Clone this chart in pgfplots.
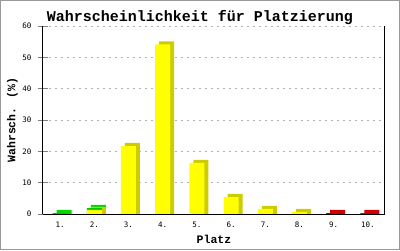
\documentclass[border=0pt]{standalone}
\usepackage{pgfplots}
\pgfplotsset{compat=1.18}
\usepackage{fontspec}
\setmainfont{Liberation Mono}
\newfontfamily\tickfont{DejaVu Sans Mono}
\definecolor{yel}{HTML}{FFFF00}
\definecolor{yelD}{HTML}{CCCC00}
\definecolor{grn}{HTML}{00C800}
\definecolor{grnD}{HTML}{00D800}
\definecolor{rd}{HTML}{CC0000}
\definecolor{rdD}{HTML}{D00000}
\begin{document}
\begin{tikzpicture}
\useasboundingbox (-43pt,-36pt) rectangle (357pt,214pt);
\draw[black!40, line width=1pt] (-42.5pt,-35.5pt) rectangle (356.5pt,213.5pt);
\begin{axis}[
  at={(0,0)}, anchor=south west,
  scale only axis, width=342pt, height=188pt,
  xmin=0.5, xmax=10.5, ymin=0, ymax=60,
  axis lines*=left,
  axis line style={line width=1pt},
  xtick={1,2,3,4,5,6,7,8,9,10},
  xticklabels={1.,2.,3.,4.,5.,6.,7.,8.,9.,10.},
  xtick style={draw=none},
  ytick={0,10,20,30,40,50,60},
  ytick style={line width=1pt},
  tick align=center,
  major tick length=10pt,
  ymajorgrids,
  grid style={black!30, dash pattern=on 2pt off 4pt, line width=0.8pt},
  tick label style={font=\tickfont\fontsize{7.5}{8}\selectfont},
  xticklabel style={yshift=1pt},
  yticklabel style={xshift=-3pt},
  /pgf/number format/assume math mode=true,
  xlabel={Platz},
  xlabel style={font=\bfseries\fontsize{11.5}{12}\selectfont, at={(axis description cs:0.5,-0.133)}, anchor=center},
  ylabel={Wahrsch. (\%)},
  ylabel style={font=\bfseries\fontsize{11.5}{12}\selectfont, at={(axis description cs:-0.0892,0.5)}, anchor=center},
]
% shadows (3D side and top faces)
\addplot[ybar, bar width=15pt, bar shift=4pt, fill=grnD, draw=none] coordinates {(1,1.3) (2,2.9)};
\addplot[ybar, bar width=15pt, bar shift=4pt, fill=rdD, draw=none] coordinates {(9,1.3) (10,1.3)};
\addplot[ybar, bar width=15pt, bar shift=4pt, fill=yelD, draw=none] coordinates {(2,2.3) (3,22.7) (4,55.1) (5,17.3) (6,6.4) (7,2.6) (8,1.6)};
% fronts
\addplot[ybar, bar width=15pt, bar shift=0pt, fill=grn, draw=none] coordinates {(1,0.3) (2,1.9)};
\addplot[ybar, bar width=15pt, bar shift=0pt, fill=rd, draw=none] coordinates {(9,0.3) (10,0.3)};
\addplot[ybar, bar width=15pt, bar shift=0pt, fill=yel, draw=none] coordinates {(2,1.3) (3,21.7) (4,54.1) (5,16.3) (6,5.4) (7,1.6) (8,0.6)};
\draw[line width=1pt] (rel axis cs:1,0) -- (rel axis cs:1,1);
\draw[line width=1pt] (rel axis cs:0,0) -- (rel axis cs:1,0);
\end{axis}
\node[font=\bfseries\fontsize{15}{16}\selectfont, anchor=base] at (157pt,193pt) {Wahrscheinlichkeit für Platzierung};
\end{tikzpicture}
\end{document}
